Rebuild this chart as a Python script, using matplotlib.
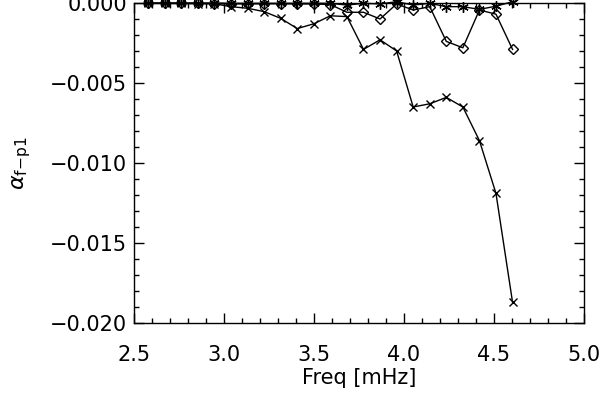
import matplotlib
matplotlib.use("Agg")
import matplotlib.pyplot as plt
from matplotlib.ticker import MultipleLocator, FuncFormatter

# frequencies (mHz) of the modes
freq = [2.579, 2.671, 2.763, 2.855, 2.947, 3.039, 3.131, 3.223, 3.315, 3.407,
        3.499, 3.591, 3.683, 3.775, 3.867, 3.959, 4.051, 4.143, 4.235, 4.327,
        4.419, 4.511, 4.603]

# alpha values for the three cases
alpha_cross = [-0.00002, -0.00002, -0.00003, -0.00004, -0.00005, -0.00023, -0.00033,
               -0.00054, -0.00096, -0.0016, -0.0013, -0.0008, -0.00085, -0.0029,
               -0.0023, -0.0030, -0.0065, -0.0063, -0.0059, -0.0065, -0.0086,
               -0.0119, -0.0187]
alpha_diamond = [-0.00003, -0.00003, -0.00003, -0.00003, -0.00004, -0.00005, -0.00006,
                 -0.00005, -0.00005, -0.00006, -0.00006, -0.0001, -0.00058, -0.00058,
                 -0.0010, -0.00006, -0.00044, -0.00023, -0.0024, -0.0028, -0.00044,
                 -0.0007, -0.0029]
alpha_star = [0.0, 0.0, 0.0, 0.0, 0.0, -0.00002, -0.00002, -0.00002, -0.00002,
              -0.00002, -0.00002, -0.00002, -0.00013, -0.00002, -0.00006, 0.00008,
              -0.00013, -0.00002, -0.00023, -0.00023, -0.0004, -0.0002, 0.00008]

plt.rcParams['font.family'] = ['DejaVu Sans']
plt.rcParams['mathtext.fontset'] = 'dejavusans'

fig = plt.figure(figsize=(6.03, 3.98), dpi=100)
ax = fig.add_axes([0.2222, 0.1884, 0.7463, 0.8041])

ax.plot(freq, alpha_cross, color="black", lw=1, marker="x", ms=6, mew=1, clip_on=False)
ax.plot(freq, alpha_diamond, color="black", lw=1, marker="D", ms=5, mew=1,
        mfc="none", clip_on=False)
ax.plot(freq, alpha_star, color="black", lw=1, marker=(6, 2, 0), ms=7.5, mew=1,
        clip_on=False)

ax.set_xlim(2.5, 5.0)
ax.set_ylim(-0.020, 0.0)
ax.xaxis.set_major_locator(MultipleLocator(0.5))
ax.xaxis.set_minor_locator(MultipleLocator(0.1))
ax.yaxis.set_major_locator(MultipleLocator(0.005))
ax.yaxis.set_minor_locator(MultipleLocator(0.001))
ax.xaxis.set_major_formatter(FuncFormatter(lambda v, p: "%.1f" % v))
ax.yaxis.set_major_formatter(
    FuncFormatter(lambda v, p: ("%.3f" % abs(v)) if abs(v) < 1e-9 else ("%.3f" % v).replace("-", "\u2212")))

ax.tick_params(which="both", direction="in", top=True, right=True, width=1,
               colors="black", labelsize=15)
ax.tick_params(which="major", length=7)
ax.tick_params(which="minor", length=3.5)
ax.tick_params(axis="x", which="major", pad=16)
ax.tick_params(axis="y", which="major", pad=5)
for s in ax.spines.values():
    s.set_linewidth(1)

ax.set_xlabel("Freq [mHz]", fontsize=15, labelpad=2)
ax.set_ylabel(r"$\alpha_{\rm f{-}p1}$", fontsize=16, labelpad=12)

fig.savefig("out.png", dpi=100)
